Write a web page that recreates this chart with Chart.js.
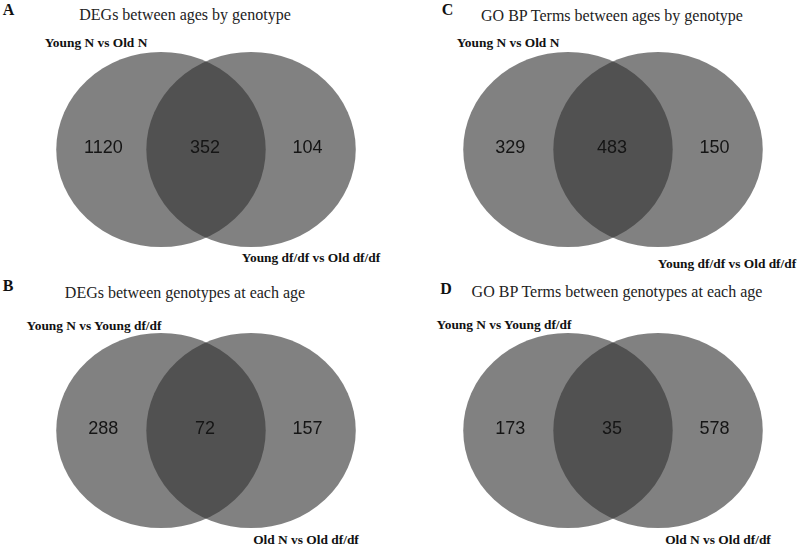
<!DOCTYPE html>
<html>
<head>
<meta charset="utf-8">
<script src="https://cdn.jsdelivr.net/npm/chart.js@4.4.1/dist/chart.umd.min.js"></script>
<style>
  html, body { margin: 0; padding: 0; background: #fff; }
  #fig { position: relative; width: 800px; height: 547px; overflow: hidden; background: #fff; }
  .txt { position: absolute; transform: translate(-50%, -50%); white-space: nowrap; line-height: 1; color: #111; font-family: "Liberation Serif", "Times New Roman", serif; }
  .letter { font-size: 16px; font-weight: bold; }
  .title { font-size: 16px; color: #222; }
  .setlab { font-size: 13.4px; font-weight: bold; }
  canvas { position: absolute; }
</style>
</head>
<body>
<div id="fig"></div>
<script>
// panels in order A, B, C, D
const panelIds = ['A', 'B', 'C', 'D'];
const panelTitles = [
  'DEGs between ages by genotype',
  'DEGs between genotypes at each age',
  'GO BP Terms between ages by genotype',
  'GO BP Terms between genotypes at each age'
];
const leftSetLabels = ['Young N vs Old N', 'Young N vs Young df/df', 'Young N vs Old N', 'Young N vs Young df/df'];
const rightSetLabels = ['Young df/df vs Old df/df', 'Old N vs Old df/df', 'Young df/df vs Old df/df', 'Old N vs Old df/df'];

const onlyLeftCounts = [1120, 288, 329, 173];
const sharedCounts = [352, 72, 483, 35];
const onlyRightCounts = [104, 157, 150, 578];

// venn geometry in data units (radius 1)
const setCentersX = [-0.43, 0.43];
const setRadius = 1;
const regionLabelX = [-0.98, -0.01, 0.97];
const regionLabelY = 0.02;

// page layout (pixels) - kept apart from the data
const layout = {
  A: { canvas: [51, 47],   letter: [8.5, 10],  title: [185, 15],  left: [96, 43],  right: [311, 258] },
  B: { canvas: [51, 328],  letter: [8, 286],   title: [185, 293], left: [94, 326], right: [306, 540] },
  C: { canvas: [458, 47],  letter: [447.5, 10], title: [612, 15.5], left: [508, 43], right: [727, 264] },
  D: { canvas: [458, 328], letter: [446, 289], title: [617, 292], left: [504, 325], right: [718, 540] }
};

const fig = document.getElementById('fig');

function addText(cls, text, pos) {
  let d = document.createElement('div');
  d.className = 'txt ' + cls;
  d.textContent = text;
  d.style.left = pos[0] + 'px';
  d.style.top = pos[1] + 'px';
  fig.appendChild(d);
}

// draws each set as an ellipse through the scales (x and y units differ in px)
const vennPlugin = {
  id: 'venn',
  beforeDatasetsDraw(chart) {
    let ctx = chart.ctx;
    let xs = chart.scales.x, ys = chart.scales.y;
    let meta = chart.getDatasetMeta(0);
    ctx.save();
    ctx.fillStyle = 'rgba(51,51,51,0.62)';
    meta.data.forEach((pt, i) => {
      let raw = chart.data.datasets[0].data[i];
      let rx = xs.getPixelForValue(raw.x + setRadius) - pt.x;
      let ry = pt.y - ys.getPixelForValue(raw.y + setRadius);
      ctx.beginPath();
      ctx.ellipse(pt.x, pt.y, rx, ry, 0, 0, Math.PI * 2);
      ctx.fill();
    });
    ctx.restore();
  },
  afterDatasetsDraw(chart) {
    let ctx = chart.ctx;
    let xs = chart.scales.x, ys = chart.scales.y;
    let counts = chart.options.plugins.venn.counts;
    ctx.save();
    ctx.fillStyle = '#151515';
    ctx.font = '18px "Liberation Sans", Arial, sans-serif';
    ctx.textAlign = 'center';
    ctx.textBaseline = 'middle';
    counts.forEach((c, i) => {
      ctx.fillText(String(c), xs.getPixelForValue(regionLabelX[i]), ys.getPixelForValue(regionLabelY));
    });
    ctx.restore();
  }
};

panelIds.forEach((id, k) => {
  let lay = layout[id];
  addText('letter', id, lay.letter);
  addText('title', panelTitles[k], lay.title);
  addText('setlab', leftSetLabels[k], lay.left);
  addText('setlab', rightSetLabels[k], lay.right);

  let cv = document.createElement('canvas');
  cv.width = 310;
  cv.height = 205;
  cv.style.left = lay.canvas[0] + 'px';
  cv.style.top = lay.canvas[1] + 'px';
  fig.appendChild(cv);

  new Chart(cv.getContext('2d'), {
    type: 'scatter',
    data: {
      datasets: [{
        data: setCentersX.map(x => ({ x: x, y: 0 })),
        pointRadius: 0,
        pointHoverRadius: 0
      }]
    },
    options: {
      responsive: false,
      animation: false,
      devicePixelRatio: 1,
      events: [],
      layout: { padding: 0 },
      scales: {
        x: { type: 'linear', display: false, min: -1.48, max: 1.48 },
        y: { type: 'linear', display: false, min: -1.05, max: 1.05 }
      },
      plugins: {
        legend: { display: false },
        tooltip: { enabled: false },
        venn: { counts: [onlyLeftCounts[k], sharedCounts[k], onlyRightCounts[k]] }
      }
    },
    plugins: [vennPlugin]
  });
});
</script>
</body>
</html>
